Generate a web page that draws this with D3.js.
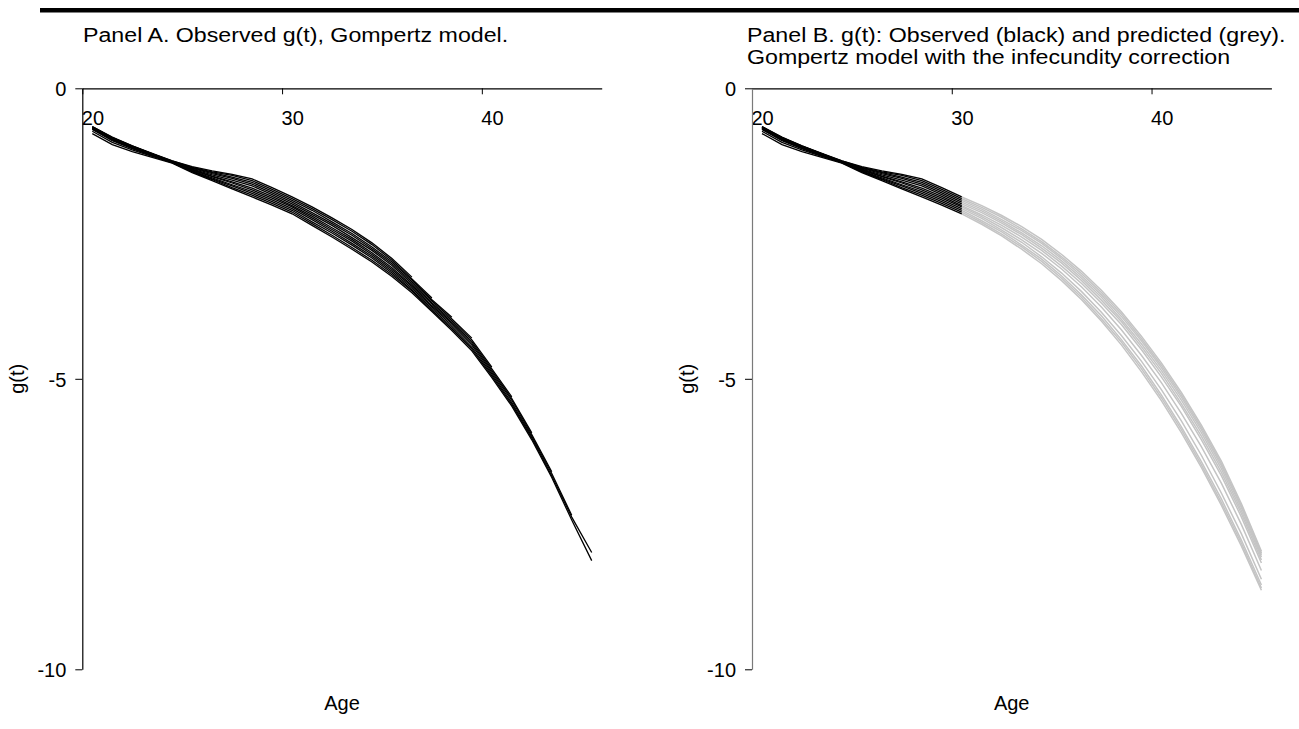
<!DOCTYPE html>
<html>
<head>
<meta charset="utf-8">
<script src="https://cdn.jsdelivr.net/npm/d3@7"></script>
<style>
  html, body { margin: 0; padding: 0; background: #fff; }
  svg { display: block; }
  text { font-family: "Liberation Sans", Arial, Helvetica, sans-serif; fill: #000; }
</style>
</head>
<body>
<svg id="chart" width="1299" height="729"></svg>
<script>
// ---------- data ----------
const ages = [20.5,21.5,22.5,23.5,24.5,25.5,26.5,27.5,28.5,29.5,30.5,31.5,32.5,33.5,34.5,35.5,36.5,37.5,38.5,39.5,40.5,41.5,42.5,43.5,44.5,45.5];
const xTickValues = [20, 30, 40];
const yTickValues = [0, -5, -10];

// observed g(t), one array per cohort, starting at age 20.5
const obs1  = [-0.69,-0.86,-1.00,-1.13,-1.25,-1.35,-1.42,-1.48,-1.56,-1.71,-1.87,-2.04,-2.23,-2.43,-2.66,-2.93,-3.25];
const obs2  = [-0.67,-0.85,-0.99,-1.12,-1.25,-1.36,-1.44,-1.50,-1.59,-1.74,-1.90,-2.07,-2.26,-2.46,-2.69,-2.96,-3.28,-3.61];
const obs3  = [-0.66,-0.84,-0.99,-1.13,-1.26,-1.37,-1.45,-1.53,-1.62,-1.77,-1.93,-2.10,-2.30,-2.50,-2.73,-2.99,-3.30,-3.64,-3.94];
const obs4  = [-0.67,-0.86,-1.01,-1.14,-1.26,-1.38,-1.47,-1.55,-1.65,-1.80,-1.96,-2.14,-2.33,-2.53,-2.76,-3.02,-3.33,-3.66,-3.97,-4.30];
const obs5  = [-0.68,-0.87,-1.02,-1.15,-1.27,-1.39,-1.49,-1.58,-1.68,-1.83,-1.99,-2.17,-2.36,-2.57,-2.79,-3.05,-3.36,-3.69,-4.00,-4.33,-4.80];
const obs6  = [-0.66,-0.85,-1.00,-1.13,-1.26,-1.40,-1.51,-1.61,-1.72,-1.86,-2.02,-2.20,-2.40,-2.60,-2.83,-3.09,-3.39,-3.71,-4.03,-4.36,-4.83,-5.31];
const obs7  = [-0.69,-0.88,-1.03,-1.15,-1.27,-1.41,-1.52,-1.63,-1.75,-1.89,-2.04,-2.23,-2.43,-2.63,-2.86,-3.12,-3.41,-3.74,-4.05,-4.39,-4.86,-5.34,-5.93];
const obs8  = [-0.70,-0.89,-1.03,-1.16,-1.28,-1.42,-1.54,-1.66,-1.78,-1.92,-2.07,-2.26,-2.46,-2.67,-2.89,-3.15,-3.44,-3.76,-4.08,-4.42,-4.89,-5.37,-5.96,-6.60];
const obs9  = [-0.71,-0.90,-1.04,-1.16,-1.28,-1.43,-1.56,-1.68,-1.81,-1.95,-2.10,-2.30,-2.49,-2.70,-2.92,-3.18,-3.47,-3.79,-4.11,-4.46,-4.92,-5.41,-5.99,-6.63,-7.35];
const obs10 = [-0.74,-0.93,-1.06,-1.17,-1.28,-1.44,-1.57,-1.71,-1.84,-1.98,-2.13,-2.33,-2.53,-2.74,-2.96,-3.21,-3.49,-3.82,-4.14,-4.49,-4.95,-5.44,-6.02,-6.67,-7.38,-7.99];
const obs11 = [-0.78,-0.97,-1.09,-1.19,-1.29,-1.45,-1.59,-1.73,-1.87,-2.01,-2.16,-2.36,-2.56,-2.77,-2.99,-3.24,-3.52,-3.84,-4.17,-4.52,-4.98,-5.47,-6.05,-6.70,-7.43,-8.13];

// panel B: observed part ends at this age, predictions start there
const observedUntilAge = 30.5;
// predicted g(t), one array per cohort, starting at age 30.5
const pred1  = [-1.87,-2.02,-2.19,-2.38,-2.60,-2.86,-3.15,-3.48,-3.85,-4.27,-4.73,-5.24,-5.80,-6.42,-7.15,-7.97];
const pred2  = [-1.90,-2.05,-2.22,-2.42,-2.64,-2.90,-3.19,-3.52,-3.89,-4.31,-4.77,-5.28,-5.84,-6.46,-7.19,-8.00];
const pred3  = [-1.93,-2.08,-2.26,-2.45,-2.67,-2.93,-3.23,-3.56,-3.93,-4.35,-4.81,-5.32,-5.88,-6.50,-7.22,-8.03];
const pred4  = [-1.96,-2.11,-2.29,-2.49,-2.71,-2.97,-3.27,-3.60,-3.98,-4.40,-4.86,-5.37,-5.93,-6.55,-7.27,-8.07];
const pred5  = [-1.99,-2.14,-2.32,-2.52,-2.75,-3.01,-3.31,-3.65,-4.02,-4.45,-4.91,-5.43,-5.99,-6.61,-7.32,-8.12];
const pred6  = [-2.02,-2.18,-2.36,-2.56,-2.79,-3.06,-3.36,-3.70,-4.07,-4.50,-4.97,-5.48,-6.05,-6.67,-7.38,-8.17];
const pred7  = [-2.04,-2.21,-2.40,-2.61,-2.84,-3.11,-3.42,-3.77,-4.16,-4.60,-5.07,-5.60,-6.17,-6.80,-7.51,-8.30];
const pred8  = [-2.07,-2.24,-2.44,-2.65,-2.90,-3.18,-3.50,-3.86,-4.26,-4.70,-5.19,-5.73,-6.32,-6.97,-7.67,-8.45];
const pred9  = [-2.10,-2.28,-2.47,-2.70,-2.94,-3.23,-3.56,-3.92,-4.33,-4.78,-5.28,-5.83,-6.43,-7.07,-7.78,-8.55];
const pred10 = [-2.13,-2.31,-2.51,-2.73,-2.98,-3.27,-3.60,-3.97,-4.37,-4.83,-5.33,-5.88,-6.48,-7.13,-7.83,-8.60];
const pred11 = [-2.16,-2.34,-2.54,-2.77,-3.02,-3.31,-3.64,-4.01,-4.42,-4.88,-5.38,-5.93,-6.53,-7.18,-7.88,-8.64];

const titleA = "Panel A. Observed g(t), Gompertz model.";
const titleB1 = "Panel B. g(t): Observed (black) and predicted (grey).";
const titleB2 = "Gompertz model with the infecundity correction";

// ---------- build ----------
const observed = [obs1,obs2,obs3,obs4,obs5,obs6,obs7,obs8,obs9,obs10,obs11];
const predicted = [pred1,pred2,pred3,pred4,pred5,pred6,pred7,pred8,pred9,pred10,pred11];
const toPts = (vals, startAge) => {
  const i0 = ages.indexOf(startAge);
  return vals.map((v, i) => ({ age: ages[i0 + i], g: v }));
};

const svg = d3.select("#chart");
const FONT = 20;
const FF = '"Liberation Sans", Arial, Helvetica, sans-serif';

// top rule
svg.append("rect").attr("x", 40).attr("y", 8).attr("width", 1259).attr("height", 4.5).attr("fill", "#000");

function panel(left, opts) {
  const x = d3.scaleLinear().domain([20, 46]).range([left, left + 519.4]);
  const y = d3.scaleLinear().domain([0, -10]).range([88.3, 669.3]);
  const g = svg.append("g");

  // x axis (top, ticks down, labels left-aligned at tick)
  const xa = g.append("g").attr("transform", `translate(0,${y(0)})`)
    .call(d3.axisBottom(x).tickValues(xTickValues).tickSize(6).tickSizeOuter(0).tickFormat(d => String(d)));
  xa.select(".domain").attr("stroke", "#000").attr("stroke-width", 1.2);
  xa.selectAll(".tick line").attr("stroke", "#000");
  xa.selectAll(".tick text").attr("text-anchor", "start").attr("x", -1).attr("y", 37).attr("dy", 0)
    .style("font-size", FONT + "px").style("font-family", FF).attr("fill", "#000");

  // y axis
  const ya = g.append("g").attr("transform", `translate(${x(20)},0)`)
    .call(d3.axisLeft(y).tickValues(yTickValues).tickSize(7).tickSizeOuter(0).tickPadding(9).tickFormat(d => String(d)));
  ya.select(".domain").attr("stroke", opts.yAxisColor).attr("stroke-width", 1.2);
  ya.selectAll(".tick line").attr("stroke", "#000");
  ya.selectAll(".tick text").style("font-size", FONT + "px")
    .style("font-family", FF).attr("fill", "#000").attr("dy", "0.36em");

  // axis titles
  g.append("text").attr("x", (x(20) + x(46)) / 2).attr("y", 710).attr("text-anchor", "middle")
    .style("font-size", FONT + "px").text("Age");
  g.append("text").attr("transform", `translate(${x(20) - 65},${y(-5)}) rotate(-90)`)
    .attr("text-anchor", "middle").attr("dy", "0.35em").style("font-size", FONT + "px").text("g(t)");

  const line = d3.line().x(d => x(d.age)).y(d => y(d.g));
  return { g, x, y, line };
}

// panel titles: slightly wide lettering as in the reference
function title(x, y, str) {
  svg.append("text").attr("transform", `translate(${x},${y}) scale(1.16,1)`)
    .style("font-size", "20px").text(str);
}

// Panel A
const A = panel(82.3, { yAxisColor: "#000" });
A.g.selectAll("path.obs").data(observed).enter().append("path")
  .attr("class", "obs").attr("fill", "none").attr("stroke", "#000").attr("stroke-width", 1.3)
  .attr("d", d => A.line(toPts(d, 20.5)));
title(83, 42, titleA);

// Panel B
const B = panel(752, { yAxisColor: "#7a7a7a" });
B.g.selectAll("path.pred").data(predicted).enter().append("path")
  .attr("class", "pred").attr("fill", "none").attr("stroke", "#c4c4c4").attr("stroke-width", 1.5)
  .attr("d", d => B.line(toPts(d, observedUntilAge)));
B.g.selectAll("path.obs").data(observed).enter().append("path")
  .attr("class", "obs").attr("fill", "none").attr("stroke", "#000").attr("stroke-width", 1.3)
  .attr("d", d => B.line(toPts(d, 20.5).filter(p => p.age <= observedUntilAge)));
title(747, 42, titleB1);
title(747, 64, titleB2);
</script>
</body>
</html>
